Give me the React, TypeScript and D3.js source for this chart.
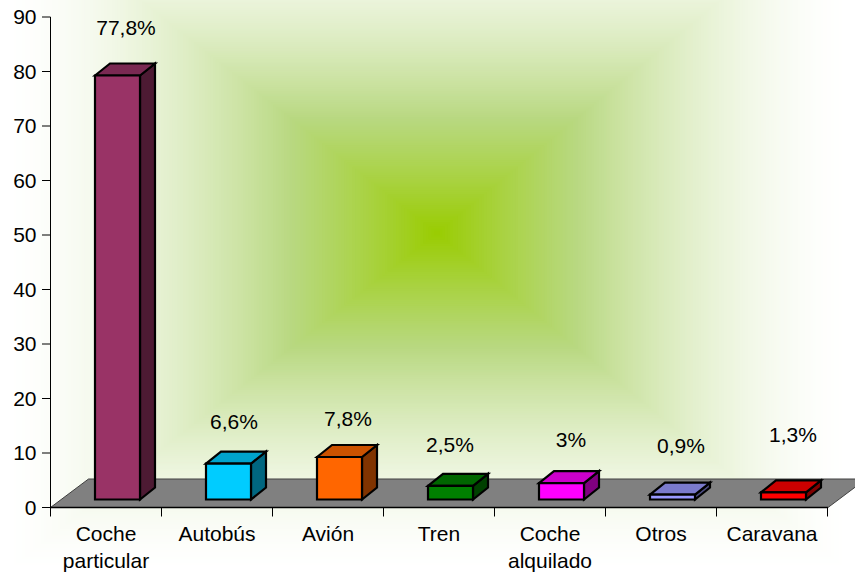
import React from 'react';
import * as d3 from 'd3';

const categories = [['Coche', 'particular'], ['Autobús'], ['Avión'], ['Tren'], ['Coche', 'alquilado'], ['Otros'], ['Caravana']];
const values = [77.8, 6.6, 7.8, 2.5, 3, 0.9, 1.3];
const valueLabels = ['77,8%', '6,6%', '7,8%', '2,5%', '3%', '0,9%', '1,3%'];
const frontColors = ['#993366', '#00ccff', '#ff6600', '#008000', '#ff00ff', '#9999ff', '#ff0000'];
const topColors = ['#7a2952', '#00a3cc', '#cc5200', '#006600', '#cc00cc', '#7a7acc', '#cc0000'];
const sideColors = ['#4d1a33', '#006680', '#803300', '#004000', '#800080', '#4d4d80', '#800000'];
const yTicks = [0, 10, 20, 30, 40, 50, 60, 70, 80, 90];

// hand placed value labels, they don't follow the bars in the original
const labelCenterX = [126, 234, 348, 450, 571, 681, 793];
const labelBaseline = [35, 429, 426, 451.5, 446.5, 453, 441.5];

const width = 855;
const height = 576;
const cx = 437;
const cy = 233;
const font = '"Liberation Sans", Arial, sans-serif';
const fontSize = 21;

const x = d3.scaleBand<number>().domain(d3.range(categories.length)).range([50.5, 827.5]);
const y = d3.scaleLinear().domain([0, 90]).range([507.5, 17]);

// background: rectangular gradient, drawn as nested rects so there are no diagonal seams
const bgColor = d3.piecewise(d3.interpolateRgb, ['#99cc00', '#b8d880', '#ffffff']);
const bgEase = d3.easePolyOut.exponent(1.7);
const bgSteps = d3.range(1, 0, -1 / 160);

function Face({pts, fill}: {pts: number[][]; fill: string}) {
  return <path d={d3.line()(pts as [number, number][])! + 'Z'} fill={fill} stroke="#000" strokeWidth={2.2} strokeLinejoin="miter"/>;
}

const App: React.FC = () => {
  const bw = 45;
  return (
    <svg width={width} height={height} style={{position: 'absolute', left: 0, top: 0}} fontFamily={font}>
      <rect width={width} height={height} fill="#fff"/>
      {bgSteps.map((t, i) => (
        <rect key={i} x={cx - 437 * t} y={cy - 343 * t} width={855 * t} height={686 * t} fill={bgColor(bgEase(t))}/>
      ))}

      {/* floor */}
      <polygon points="50.5,507.5 88.5,479 866,479 828,507.5" fill="#808080" stroke="#404040" strokeWidth={1}/>

      {/* axes */}
      <line x1={50.5} x2={50.5} y1={y(90)} y2={y(0) + 9} stroke="#000" strokeWidth={1}/>
      <line x1={50.5} x2={828} y1={y(0)} y2={y(0)} stroke="#000" strokeWidth={1.5}/>
      {yTicks.map(t => (
        <g key={t}>
          <line x1={42} x2={50.5} y1={y(t)} y2={y(t)} stroke="#000"/>
          <text x={36.5} y={y(t) + 7} textAnchor="end" fontSize={fontSize}>{t}</text>
        </g>
      ))}
      {categories.map((c, i) => (
        <line key={i} x1={x(i)! + x.bandwidth()} x2={x(i)! + x.bandwidth()} y1={y(0)} y2={y(0) + 9} stroke="#000"/>
      ))}
      {categories.map((c, i) => (
        <text key={i} textAnchor="middle" fontSize={fontSize} fill="#000">
          {c.map((s, j) => <tspan key={j} x={x(i)! + x.bandwidth() / 2} y={541 + j * 27}>{s}</tspan>)}
        </text>
      ))}

      {/* bars */}
      {values.map((v, i) => {
        const x0 = x(i)! + x.bandwidth() / 2 - 11;
        const x1 = x0 + bw;
        const yb = y(0) - 8;
        const yt = y(v) - 8;
        const dx = 15;
        const dy = -12;
        return (
          <g key={i}>
            <Face pts={[[x1, yt], [x1 + dx, yt + dy], [x1 + dx, yb + dy], [x1, yb]]} fill={sideColors[i]}/>
            <Face pts={[[x0, yt], [x0 + dx, yt + dy], [x1 + dx, yt + dy], [x1, yt]]} fill={topColors[i]}/>
            <Face pts={[[x0, yt], [x1, yt], [x1, yb], [x0, yb]]} fill={frontColors[i]}/>
          </g>
        );
      })}

      {valueLabels.map((l, i) => (
        <text key={i} x={labelCenterX[i]} y={labelBaseline[i]} textAnchor="middle" fontSize={fontSize}>{l}</text>
      ))}
    </svg>
  );
};

export default App;
